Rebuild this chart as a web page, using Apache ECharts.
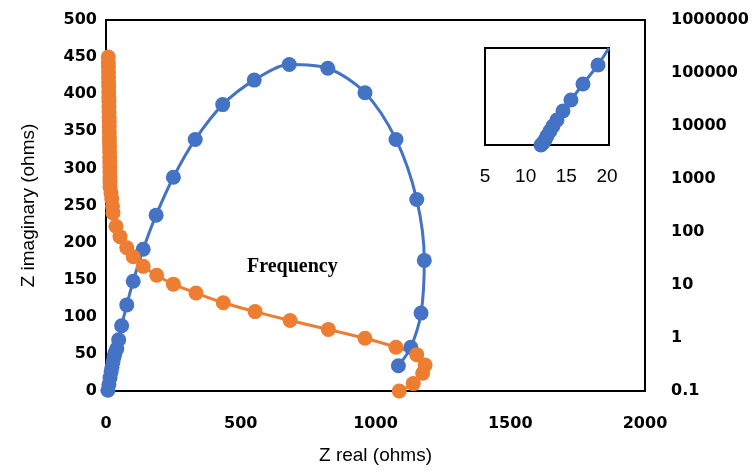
<!DOCTYPE html>
<html>
<head>
<meta charset="utf-8">
<script src="https://cdn.jsdelivr.net/npm/echarts@6/dist/echarts.min.js"></script>
<style>
html,body{margin:0;padding:0;background:#fff;}
#chart{width:756px;height:471px;}
</style>
</head>
<body>
<div id="chart"></div>
<script>
// Nyquist data (Z real, Z imaginary) in ohms
var blueZReal = [7, 11, 15, 19, 22, 26, 30, 33, 40, 47, 58, 77, 101, 138, 186, 250, 331, 433, 550, 680, 823, 961, 1076, 1153, 1181, 1169, 1131, 1085];
var blueZImag = [1, 9, 18, 26, 32, 39, 46, 51, 57, 69, 88, 116, 148, 191, 237, 288, 339, 386, 419, 440, 435, 402, 339, 258, 176, 105, 59, 34];

var orangeZReal = [8.5, 8.7, 9, 9.2, 9.5, 9.7, 10, 10.2, 10.5, 10.7, 11, 11.3, 11.5, 11.8, 12, 12.3, 12.6, 12.9, 13.2, 13.5, 13.8, 14, 14.2, 14.4, 14.6, 14.7, 14.8, 18.6, 21.2, 24.1,
  26, 37, 52, 77, 101, 138, 188, 250, 334, 435, 553, 683, 825, 961, 1076, 1153, 1184, 1175, 1140, 1088];
var orangeZImag = [450, 443, 437, 430, 423, 416, 410, 403, 396, 390, 383, 376, 369, 363, 356, 349, 342, 336, 329, 322, 315, 309, 302, 295, 288, 282, 275, 267, 259, 249,
  240, 222, 208, 193, 181, 168, 156, 144, 132, 119, 107, 95, 83, 71, 59, 49, 35, 24, 10, 0];

// Inset data
var insetX = [18.9, 17.05, 15.57, 14.59, 13.85, 13.36, 12.99, 12.62, 12.38, 12.13, 11.89];
var insetY = [82.5, 62.9, 46.4, 35.1, 25.8, 19.6, 14.4, 9.3, 5.2, 2.1, 0];
var insetLineEnd = [20.25, 100];

// Tick labels
var zRealTickLabels = ['0', '500', '1000', '1500', '2000'];
var zImagTickLabels = ['0', '50', '100', '150', '200', '250', '300', '350', '400', '450', '500'];
var freqTickLabels = ['0.1', '1', '10', '100', '1000', '10000', '100000', '1000000'];
var insetTickLabels = ['5', '10', '15', '20'];

function zip(a, b) { return a.map(function (v, i) { return [v, b[i]]; }); }

var BLUE = '#4472C4', ORANGE = '#ED7D31';
var tickFont = { color: '#000', fontFamily: 'DejaVu Sans', fontWeight: 'bold', fontSize: 16 };
var nameFont = { color: '#000', fontFamily: 'Liberation Sans', fontSize: 19 };

var insetData = zip(insetX, insetY);
insetData.unshift({ value: insetLineEnd, symbol: 'none' });

var chart = echarts.init(document.getElementById('chart'), null, { renderer: 'canvas' });
chart.setOption({
  animation: false,
  backgroundColor: '#fff',
  grid: [
    { left: 106, right: 111, top: 20, bottom: 80, show: true, borderColor: '#000', borderWidth: 2, containLabel: false, outerBoundsMode: 'none' },
    { left: 485, top: 48, width: 124, height: 97, show: true, borderColor: '#000', borderWidth: 2, containLabel: false, outerBoundsMode: 'none' }
  ],
  xAxis: [
    { type: 'value', gridIndex: 0, min: 0, max: 2000, interval: 500,
      name: 'Z real (ohms)', nameLocation: 'middle', nameGap: 55, nameTextStyle: nameFont,
      axisLine: { show: true, lineStyle: { color: '#000', width: 2 } }, axisTick: { show: false },
      splitLine: { show: false },
      axisLabel: Object.assign({ margin: 25, formatter: function (v) { return zRealTickLabels[Math.round(v / 500)] || ''; } }, tickFont) },
    { type: 'value', gridIndex: 1, min: 5, max: 20.25, interval: 5,
      axisLine: { show: false }, axisTick: { show: false }, splitLine: { show: false },
      axisLabel: { margin: 22, color: '#000', fontFamily: 'Liberation Sans', fontSize: 19, showMaxLabel: false,
        formatter: function (v) { if (Math.abs(v % 5) > 0.01) return ''; var i = Math.round((v - 5) / 5); return insetTickLabels[i] || ''; } } }
  ],
  yAxis: [
    { type: 'value', gridIndex: 0, min: 0, max: 500, interval: 50,
      name: 'Z imaginary (ohms)', nameLocation: 'middle', nameGap: 68, nameTextStyle: nameFont,
      axisLine: { show: true, lineStyle: { color: '#000', width: 2 } }, axisTick: { show: false },
      splitLine: { show: false },
      axisLabel: Object.assign({ margin: 9, formatter: function (v) { return zImagTickLabels[Math.round(v / 50)] || ''; } }, tickFont) },
    { type: 'log', gridIndex: 0, logBase: 10, min: 0.1, max: 1000000, position: 'right',
      name: 'Frequency (Hz)', nameLocation: 'middle', nameGap: 84, nameTextStyle: nameFont,
      axisLine: { show: true, lineStyle: { color: '#000', width: 2 } }, axisTick: { show: false },
      splitLine: { show: false },
      axisLabel: Object.assign({ margin: 26, formatter: function (v) { var i = Math.round(Math.log10(v)) + 1; return freqTickLabels[i] || ''; } }, tickFont) },
    { type: 'value', gridIndex: 1, min: 0, max: 100, show: false, splitLine: { show: false } }
  ],
  graphic: [
    { type: 'text', left: 247, top: 257, style: { text: 'Frequency', fill: '#000', font: 'bold 20px "Liberation Serif"' } }
  ],
  series: [
    { type: 'line', xAxisIndex: 0, yAxisIndex: 0, data: zip(blueZReal, blueZImag), smooth: 0.3,
      symbol: 'circle', symbolSize: 15, clip: false,
      lineStyle: { color: BLUE, width: 3 }, itemStyle: { color: BLUE } },
    { type: 'line', xAxisIndex: 0, yAxisIndex: 0, data: zip(orangeZReal, orangeZImag), smooth: 0.3,
      symbol: 'circle', symbolSize: 15, clip: false,
      lineStyle: { color: ORANGE, width: 3 }, itemStyle: { color: ORANGE } },
    { type: 'line', xAxisIndex: 1, yAxisIndex: 2, data: insetData, smooth: false,
      symbol: 'circle', symbolSize: 15, clip: false,
      lineStyle: { color: BLUE, width: 3 }, itemStyle: { color: BLUE } }
  ]
});
</script>
</body>
</html>
